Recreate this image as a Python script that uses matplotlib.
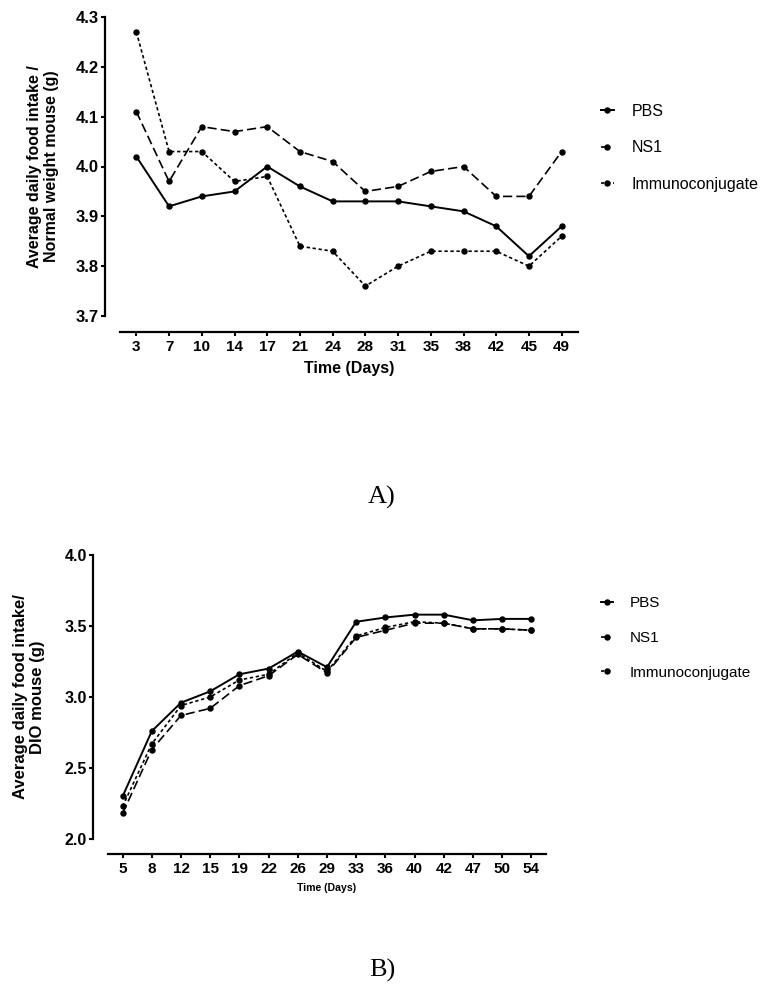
import matplotlib
matplotlib.use("Agg")
import matplotlib.pyplot as plt

# ---- Data ----
days_a = [3, 7, 10, 14, 17, 21, 24, 28, 31, 35, 38, 42, 45, 49]
pbs_a = [4.02, 3.92, 3.94, 3.95, 4.00, 3.96, 3.93, 3.93, 3.93, 3.92, 3.91, 3.88, 3.82, 3.88]
ns1_a = [4.11, 3.97, 4.08, 4.07, 4.08, 4.03, 4.01, 3.95, 3.96, 3.99, 4.00, 3.94, 3.94, 4.03]
imm_a = [4.27, 4.03, 4.03, 3.97, 3.98, 3.84, 3.83, 3.76, 3.80, 3.83, 3.83, 3.83, 3.80, 3.86]

days_b = [5, 8, 12, 15, 19, 22, 26, 29, 33, 36, 40, 42, 47, 50, 54]
pbs_b = [2.30, 2.76, 2.96, 3.04, 3.16, 3.20, 3.32, 3.21, 3.53, 3.56, 3.58, 3.58, 3.54, 3.55, 3.55]
ns1_b = [2.18, 2.63, 2.87, 2.92, 3.08, 3.15, 3.30, 3.17, 3.42, 3.47, 3.52, 3.52, 3.48, 3.48, 3.47]
imm_b = [2.23, 2.67, 2.94, 3.00, 3.12, 3.16, 3.31, 3.18, 3.43, 3.49, 3.53, 3.52, 3.48, 3.48, 3.47]

series_names = ["PBS", "NS1", "Immunoconjugate"]

plt.rcParams["font.family"] = ["Liberation Sans", "DejaVu Sans"]

fig = plt.figure(figsize=(7.68, 9.85), dpi=100)

styles = [
    dict(linestyle="-", linewidth=1.4),
    dict(linestyle=(0, (5.5, 2.5)), linewidth=1.2),
    dict(linestyle=(0, (2, 1.6)), linewidth=1.2),
]
mk = dict(marker="o", markersize=3.6, color="black", markerfacecolor="black",
          markeredgecolor="black")


def style_axes(ax, ylim, yticks, xlabels, ylabel, ytick_fs, xtick_fs, xl_fs, yl_fs,
               xoff, yoff, ylpad, xlpad):
    for s in ["top", "right"]:
        ax.spines[s].set_visible(False)
    ax.spines["left"].set_position(("outward", yoff))
    ax.spines["bottom"].set_position(("outward", xoff))
    for s in ["left", "bottom"]:
        ax.spines[s].set_linewidth(1.6)
    ax.tick_params(axis="both", length=3, width=1.5, pad=1.5)
    ax.tick_params(axis="x", pad=3)
    ax.set_ylim(*ylim)
    ax.set_yticks(yticks)
    ax.set_yticklabels([f"{t:.1f}" for t in yticks], fontweight="bold", fontsize=ytick_fs)
    ax.set_xlim(-0.5, len(xlabels) - 0.5)
    ax.set_xticks(range(len(xlabels)))
    ax.set_xticklabels([str(d) for d in xlabels], fontweight="bold", fontsize=xtick_fs)
    ax.set_ylabel(ylabel, fontweight="bold", fontsize=yl_fs, labelpad=ylpad,
                  linespacing=1.15)
    ax.set_xlabel("Time (Days)", fontweight="bold", fontsize=xl_fs, labelpad=xlpad)


def draw(ax, a, b, c):
    x = range(len(a))
    lines = []
    for vals, st in zip([a, b, c], styles):
        ln, = ax.plot(x, vals, **st, **mk)
        lines.append(ln)
    return lines


# ---- Panel A ----
axA = fig.add_axes([120 / 768, 1 - 316 / 985, 458 / 768, 299 / 985])
linesA = draw(axA, pbs_a, ns1_a, imm_a)
style_axes(axA, (3.7, 4.3), [3.7, 3.8, 3.9, 4.0, 4.1, 4.2, 4.3], days_a,
           "Average daily food intake /\nNormal weight mouse (g)",
           12, 11, 11.5, 11.5, 11.5, 11, 12, 5)
fig.legend(linesA, series_names, loc="center left",
           bbox_to_anchor=(601 / 768, 1 - 148 / 985), frameon=False,
           fontsize=11.5, handlelength=0.8, handletextpad=1.1, labelspacing=1.35,
           borderpad=0, borderaxespad=0)
fig.text(382 / 768, 1 - 497 / 985, "A)", family="Liberation Serif", fontsize=19,
         ha="center", va="center")

# ---- Panel B ----
axB = fig.add_axes([108 / 768, 1 - 839 / 985, 438 / 768, 284 / 985])
linesB = draw(axB, pbs_b, ns1_b, imm_b)
style_axes(axB, (2.0, 4.0), [2.0, 2.5, 3.0, 3.5, 4.0], days_b,
           "Average daily food intake/\nDIO mouse (g)",
           11.5, 11, 7.6, 12, 10.8, 10.8, 14, 5)
fig.legend(linesB, series_names, loc="center left",
           bbox_to_anchor=(601 / 768, 1 - 638 / 985), frameon=False,
           fontsize=11, handlelength=0.8, handletextpad=1.1, labelspacing=1.35,
           borderpad=0, borderaxespad=0)
fig.text(382 / 768, 1 - 970 / 985, "B)", family="Liberation Serif", fontsize=19,
         ha="center", va="center")

fig.savefig("out.png", dpi=100, facecolor="white")
